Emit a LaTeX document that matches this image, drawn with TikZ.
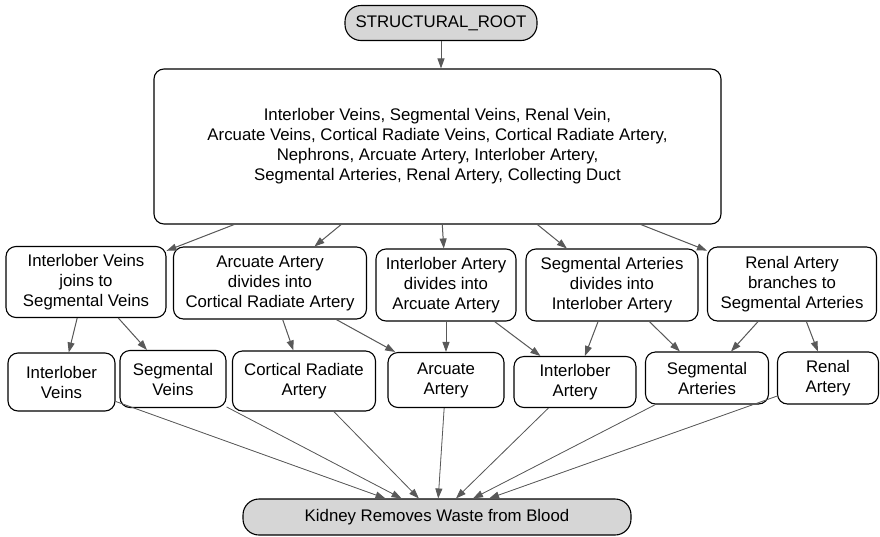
\documentclass[tikz,border=0pt]{standalone}
\usepackage{fontspec}
\setmainfont{Liberation Sans}
\usetikzlibrary{positioning,arrows.meta}
\definecolor{edgegray}{HTML}{595959}
\definecolor{rootgray}{HTML}{D6D6D6}

\begin{document}
\begin{tikzpicture}
    [x=1pt,y=-1pt,every node/.style={draw, line width=1.1pt, rounded corners=10pt, align=center, inner sep=2pt, font=\fontsize{16.8}{20}\selectfont},
     grey/.style={fill=rootgray, rounded corners=16pt},
     link/.style={-{Triangle[length=10pt,width=7pt]}, line width=1pt, draw=edgegray, fill=edgegray}]
  \useasboundingbox (0,0) rectangle (880,536);

  \node[grey, minimum width=192pt, minimum height=35pt] (root) at (441,23) {STRUCTURAL\_ROOT};
  \node[minimum width=567pt, minimum height=155pt] (big) at (437.5,146.5) {Interlober Veins, Segmental Veins, Renal Vein,\\Arcuate Veins, Cortical Radiate Veins, Cortical Radiate Artery,\\Nephrons, Arcuate Artery, Interlober Artery,\\Segmental Arteries, Renal Artery, Collecting Duct};

  \node[minimum width=160pt, minimum height=71pt] (m1) at (86,282) {Interlober Veins\\joins to\\Segmental Veins};
  \node[minimum width=193pt, minimum height=72pt] (m2) at (270,283) {Arcuate Artery\\divides into\\Cortical Radiate Artery};
  \node[minimum width=140pt, minimum height=72pt] (m3) at (446,285) {Interlober Artery\\divides into\\Arcuate Artery};
  \node[minimum width=172pt, minimum height=72pt] (m4) at (612,285) {Segmental Arteries\\divides into\\Interlober Artery};
  \node[minimum width=169pt, minimum height=74pt] (m5) at (792,284) {Renal Artery\\branches to\\Segmental Arteries};

  \node[minimum width=107pt, minimum height=58pt] (b1) at (61.5,382) {Interlober\\Veins};
  \node[minimum width=106pt, minimum height=57pt] (b2) at (173,379) {Segmental\\Veins};
  \node[minimum width=143pt, minimum height=60pt] (b3) at (304,381) {Cortical Radiate\\Artery};
  \node[minimum width=116pt, minimum height=55pt] (b4) at (446,380) {Arcuate\\Artery};
  \node[minimum width=122pt, minimum height=51pt] (b5) at (575,382) {Interlober\\Artery};
  \node[minimum width=123pt, minimum height=52pt] (b6) at (707,378) {Segmental\\Arteries};
  \node[minimum width=101pt, minimum height=52pt] (b7) at (828,378) {Renal\\Artery};

  \node[grey, minimum width=388pt, minimum height=36pt] (sink) at (437,517) {Kidney Removes Waste from Blood};

  \draw[link] (root) -- (root |- big.north);
  \foreach \ang/\to in {201/m1, 219/m2, 322/m4, 339/m5}
    \draw[link] (big.\ang) -- (\to);
  \draw[link] (big) -- (m3);

  \foreach \from/\to in {m1/b1, m1/b2, m2/b3, m2/b4, m3/b4, m3/b5, m4/b5, m4/b6, m5/b6, m5/b7}
    \draw[link] (\from) -- (\to);

  \foreach \from in {b1,b2,b3,b4,b5,b6,b7}
    \draw[link, line width=0.8pt] (\from) -- (sink);
\end{tikzpicture}
\end{document}
